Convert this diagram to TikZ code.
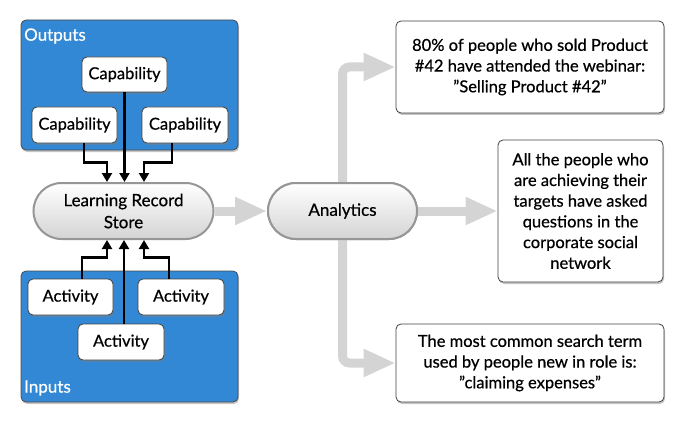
\documentclass[tikz,border=0pt]{standalone}
\usepackage{fontspec}
\setmainfont{Lato}[FakeBold=0.6]
\usetikzlibrary{arrows.meta,shapes.misc,shadows,calc}
\definecolor{grpblue}{RGB}{50,136,212}
\definecolor{garrow}{RGB}{212,212,212}
\definecolor{pillborder}{RGB}{150,150,150}
\newcommand{\dq}{{\char34}}
\tikzset{
  grp/.style={draw=black!70, line width=0.8pt, fill=grpblue, rounded corners=5pt,
    drop shadow={shadow xshift=1pt, shadow yshift=-2pt, opacity=0.45}},
  wbox/.style={draw=black!75, line width=0.8pt, fill=white, rounded corners=5pt, align=center,
    inner sep=2pt, font=\fontsize{16.5}{20.7}\selectfont,
    drop shadow={shadow xshift=1pt, shadow yshift=-2pt, opacity=0.45}},
  pill/.style={rounded rectangle, draw=pillborder, line width=2pt, top color=white,
    bottom color=black!17, align=center, font=\fontsize{17}{22}\selectfont, inner sep=0pt},
  blk/.style={line width=2.4pt, -{Triangle[length=9pt,width=10pt]}},
  gry/.style={line width=9pt, draw=garrow, rounded corners=7pt, -{Triangle[length=32pt,width=26pt]}},
  grplabel/.style={text=white, font=\fontsize{17}{20}\selectfont, anchor=west, inner sep=0pt}
}
\begin{document}
\begin{tikzpicture}[x=1pt,y=-1pt]
\useasboundingbox (0,0) rectangle (690,433);
% groups
\node[grp, minimum width=217pt, minimum height=130pt, inner sep=0pt] (outg) at (129.5,85) {};
\node[grp, minimum width=217pt, minimum height=131pt, inner sep=0pt] (ing) at (129.5,336.5) {};
\node[grplabel] (outl) at (24,36) {Outputs};
\node[grplabel] (inl) at (24,388) {Inputs};
% capability boxes
\node[wbox, minimum width=85pt, minimum height=35pt] (ct) at (124.5,74.5) {Capability};
\node[wbox, minimum width=85pt, minimum height=36pt] (cl) at (74.5,125) {Capability};
\node[wbox, minimum width=86pt, minimum height=36pt] (cr) at (185,125) {Capability};
% activity boxes
\node[wbox, minimum width=85pt, minimum height=36pt] (al) at (70.5,297) {Activity};
\node[wbox, minimum width=86pt, minimum height=36pt] (ar) at (181,297) {Activity};
\node[wbox, minimum width=86pt, minimum height=36pt] (am) at (121,342) {Activity};
% pills
\node[pill, minimum width=180pt, minimum height=56pt] (lrs) at (123.5,211) {Learning Record\\Store};
\node[pill, minimum width=149pt, minimum height=56pt] (an) at (342.5,211) {Analytics};
% result boxes
\node[wbox, minimum width=268pt, minimum height=92pt] (b1) at (530,67)
  {80\% of people who sold Product\\\#42 have attended the webinar:\\\dq Selling Product \#42\dq};
\node[wbox, minimum width=165pt, minimum height=142pt] (b2) at (580.5,211)
  {All the people who\\are achieving their\\targets have asked\\questions in the\\corporate social\\network};
\node[wbox, minimum width=268pt, minimum height=78pt] (b3) at (530,363)
  {The most common search term\\used by people new in role is:\\\dq claiming expenses\dq};
% black arrows
\draw[blk] ([xshift=9.5pt]cl.south) -- ++(0,19) -| ([xshift=-16.5pt]lrs.north);
\draw[blk] (ct.south) -- (ct.south |- lrs.north);
\draw[blk] ([xshift=-13pt]cr.south) -- ++(0,19) -| ([xshift=20.5pt]lrs.north);
\draw[blk] ([xshift=11.5pt]al.north) -- ++(0,-21) -| ([xshift=-16.5pt]lrs.south);
\draw[blk] ([xshift=3pt]am.north) -- ([xshift=3pt]am.north |- lrs.south);
\draw[blk] ([xshift=-12pt]ar.north) -- ++(0,-21) -| ([xshift=20.5pt]lrs.south);
% gray arrows
\draw[gry] (lrs.east) -- (an.west);
\draw[gry] (an.east) -- (b2.west);
\draw[gry] (an.north) |- (b1.west);
\draw[gry] (an.south) |- (b3.west);
% redraw pill on top of arrow stems
\node[pill, minimum width=149pt, minimum height=56pt] at (342.5,211) {Analytics};
\end{tikzpicture}
\end{document}
